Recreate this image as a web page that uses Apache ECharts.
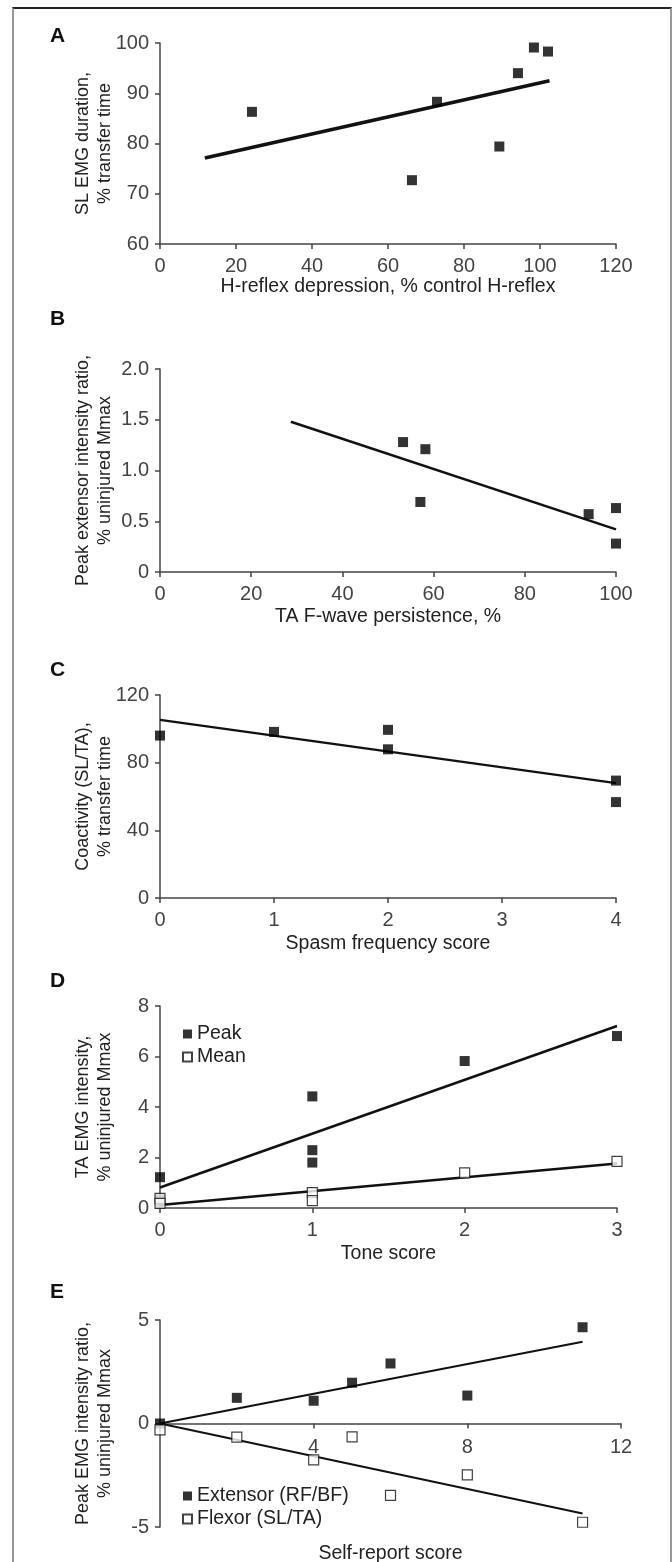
<!DOCTYPE html>
<html>
<head>
<meta charset="utf-8">
<script src="https://cdn.jsdelivr.net/npm/echarts@6/dist/echarts.min.js"></script>
<style>
  html, body { margin: 0; padding: 0; background: #fff; }
  #frame { position: absolute; left: 12px; top: 7px; width: 656px; height: 1560px;
           border-top: 2px solid #222; border-left: 2px solid #999; border-right: 2px solid #999; }
  #main { position: absolute; left: 0; top: 0; width: 672px; height: 1562px; }
</style>
</head>
<body>
<div id="frame"></div>
<div id="main"></div>
<script>
// A: H-reflex depression vs SL EMG duration
var hReflexA = [24.2, 66.3, 72.9, 89.3, 94.2, 98.4, 102.1];
var slDurationA = [86.3, 72.7, 88.3, 79.4, 94.0, 99.1, 98.3];
var trendA = [[11.8, 77.1], [102.5, 92.5]];

// B: TA F-wave persistence vs peak extensor intensity ratio
var fwaveB = [53.3, 58.2, 57.1, 94.0, 100, 100];
var extRatioB = [1.28, 1.21, 0.69, 0.57, 0.63, 0.28];
var trendB = [[28.7, 1.48], [100, 0.42]];

// C: spasm frequency score vs coactivity
var spasmC = [0, 1, 2, 2, 4, 4];
var coactC = [96.0, 98.2, 99.4, 87.9, 69.4, 56.7];
var trendC = [[0, 105.3], [4, 67.9]];

// D: tone score vs TA EMG intensity
var toneD = [0, 0, 0, 1, 1, 1, 2, 3];
var peakD = [1.22, 0.35, 0.25, 4.42, 2.29, 1.80, 5.82, 6.81];
var toneMeanD = [0, 0, 1, 1, 2, 3];
var meanD = [0.38, 0.18, 0.61, 0.29, 1.39, 1.85];
var trendPeakD = [[0, 0.81], [3, 7.21]];
var trendMeanD = [[0, 0.12], [3, 1.76]];

// E: self-report score vs peak EMG intensity ratio
var selfE = [0, 2, 4, 5, 6, 8, 11];
var extensorE = [0, 1.24, 1.10, 1.97, 2.90, 1.35, 4.65];
var flexorE = [-0.31, -0.66, -1.76, -0.65, -3.47, -2.48, -4.77];
var trendExtE = [[0, 0], [11, 3.95]];
var trendFlexE = [[0, 0], [11, -4.35]];

var panelLetters = ['A', 'B', 'C', 'D', 'E'];
var xNames = ['H-reflex depression, % control H-reflex', 'TA F-wave persistence, %',
  'Spasm frequency score', 'Tone score', 'Self-report score'];
var yNames = ['SL EMG duration,\n% transfer time', 'Peak extensor intensity ratio,\n% uninjured Mmax',
  'Coactivity (SL/TA),\n% transfer time', 'TA EMG intensity,\n% uninjured Mmax',
  'Peak EMG intensity ratio,\n% uninjured Mmax'];

function zip(xs, ys) {
  var res = [];
  for (var i = 0; i < xs.length; i++) res.push([xs[i], ys[i]]);
  return res;
}

var myChart = echarts.init(document.getElementById('main'));

var axisColor = '#444';
var fontFam = "'Liberation Sans', Arial, sans-serif";

function xAx(i, min, max, interval, gap, extra) {
  var a = {
    gridIndex: i, type: 'value', min: min, max: max, interval: interval,
    name: xNames[i], nameLocation: 'middle', nameGap: gap, nameMoveOverlap: false,
    nameTextStyle: { color: '#222', fontSize: 19.5, fontFamily: fontFam },
    axisLine: { lineStyle: { color: axisColor, width: 1.5 } },
    axisTick: { length: 5, lineStyle: { color: axisColor, width: 1.5 } },
    axisLabel: { color: '#444', fontSize: 20, fontFamily: fontFam, margin: 12 },
    splitLine: { show: false }
  };
  return Object.assign(a, extra || {});
}
function yAx(i, min, max, interval, extra) {
  var a = {
    gridIndex: i, type: 'value', min: min, max: max, interval: interval,
    name: yNames[i], nameLocation: 'middle', nameGap: 44, nameMoveOverlap: false,
    nameTextStyle: { color: '#222', fontSize: 18, fontFamily: fontFam, lineHeight: 22 },
    axisLine: { show: true, lineStyle: { color: axisColor, width: 1.5 } },
    axisTick: { show: true, length: 5, lineStyle: { color: axisColor, width: 1.5 } },
    axisLabel: { color: '#444', fontSize: 20, fontFamily: fontFam, margin: 11 },
    splitLine: { show: false }
  };
  return Object.assign(a, extra || {});
}

var filled = { color: '#000' };
var empty = { color: '#fff', borderColor: '#111', borderWidth: 1.2 };

function dots(i, name, data, style) {
  return { name: name, type: 'scatter', xAxisIndex: i, yAxisIndex: i, data: data,
    symbol: 'rect', symbolSize: 10, itemStyle: style, z: 3, silent: true };
}
function trend(i, data, w) {
  return { type: 'line', xAxisIndex: i, yAxisIndex: i, data: data, showSymbol: false,
    lineStyle: { color: '#111', width: w }, z: 2, silent: true };
}

var grids = [
  { left: 160, top: 43, width: 456, height: 201 },
  { left: 160, top: 369, width: 456, height: 203 },
  { left: 160, top: 695, width: 456, height: 203 },
  { left: 160, top: 1006, width: 457, height: 202 },
  { left: 160, top: 1320, width: 461, height: 207 }
].map(function (g) { g.outerBoundsMode = 'none'; g.containLabel = false; return g; });
var letterY = [37, 320, 671, 982, 1293];

option = {
  animation: false,
  grid: grids,
  xAxis: [
    xAx(0, 0, 120, 20, 33),
    xAx(1, 0, 100, 20, 35),
    xAx(2, 0, 4, 1, 36),
    xAx(3, 0, 3, 1, 36),
    // E: axis line sits on y = 0, labels pulled up from the grid bottom to the line
    xAx(4, 0, 12, 4, 17, {
      axisLabel: { color: '#444', fontSize: 20, fontFamily: fontFam, margin: -90,
        formatter: function (v) { return v === 0 ? '' : v; } }
    })
  ],
  yAxis: [
    yAx(0, 60, 100, 10),
    yAx(1, 0, 2, 0.5, { axisLabel: { color: '#444', fontSize: 20, fontFamily: fontFam, margin: 11,
      formatter: function (v) { return v === 0 ? '0' : v.toFixed(1); } } }),
    yAx(2, 0, 120, 40),
    yAx(3, 0, 8, 2),
    yAx(4, -5, 5, 5)
  ],
  legend: [
    { data: ['Peak', 'Mean'], orient: 'vertical', left: 177, top: 1019, itemGap: 3,
      itemWidth: 9, itemHeight: 9, textStyle: { fontSize: 19.5, color: '#222', fontFamily: fontFam },
      selectedMode: false },
    { data: ['Extensor (RF/BF)', 'Flexor (SL/TA)'], orient: 'vertical', left: 177, top: 1481, itemGap: 3,
      itemWidth: 9, itemHeight: 9, textStyle: { fontSize: 19.5, color: '#222', fontFamily: fontFam },
      selectedMode: false }
  ],
  graphic: panelLetters.map(function (l, i) {
    return { type: 'text', left: 50, top: letterY[i] - 11,
      style: { text: l, font: 'bold 21px ' + fontFam, fill: '#111' } };
  }),
  series: [
    trend(0, trendA, 3.5),
    dots(0, 'A', zip(hReflexA, slDurationA), filled),
    trend(1, trendB, 2.5),
    dots(1, 'B', zip(fwaveB, extRatioB), filled),
    trend(2, trendC, 2.5),
    dots(2, 'C', zip(spasmC, coactC), filled),
    trend(3, trendPeakD, 2.5),
    trend(3, trendMeanD, 2.5),
    dots(3, 'Peak', zip(toneD, peakD), filled),
    dots(3, 'Mean', zip(toneMeanD, meanD), empty),
    trend(4, trendExtE, 2),
    trend(4, trendFlexE, 2),
    dots(4, 'Extensor (RF/BF)', zip(selfE, extensorE), filled),
    dots(4, 'Flexor (SL/TA)', zip(selfE, flexorE), empty)
  ]
};

myChart.setOption(option);
</script>
</body>
</html>
